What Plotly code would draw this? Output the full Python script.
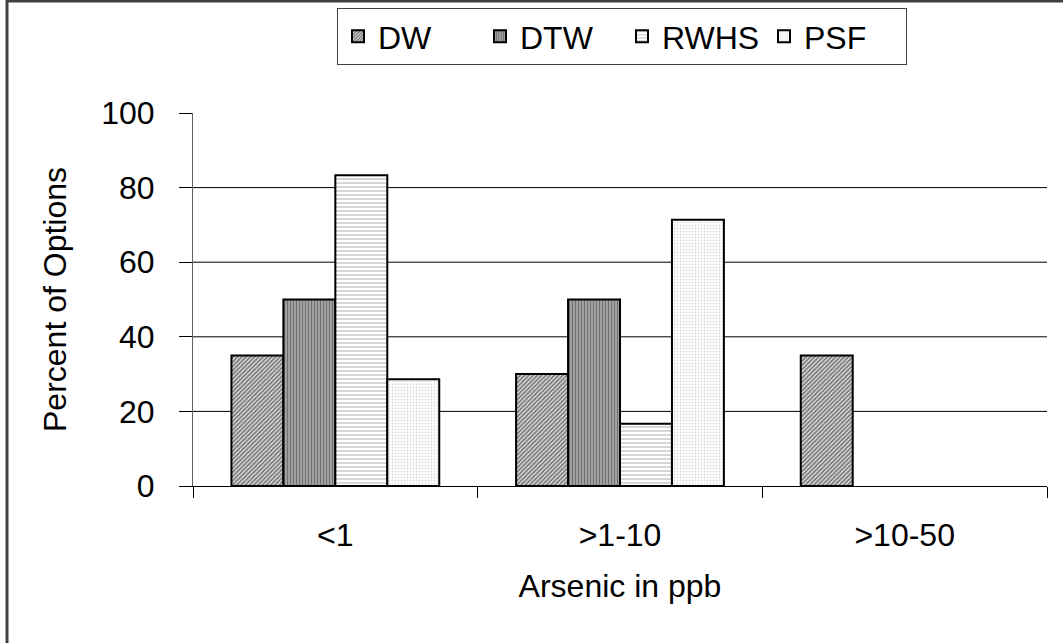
import plotly.graph_objects as go

categories = ["<1", ">1-10", ">10-50"]
series_names = ["DW", "DTW", "RWHS", "PSF"]
dw = [35, 30, 35]
dtw = [50, 50, 0]
rwhs = [83.3, 16.7, 0]
psf = [28.6, 71.4, 0]
y_ticks = [0, 20, 40, 60, 80, 100]
grid_values = [20, 40, 60, 80]

FONT = "Liberation Sans, Arial, sans-serif"

patterns = [
    dict(shape="/", fgcolor="#000000", bgcolor="#ffffff", size=3, solidity=0.7),
    dict(shape="|", fgcolor="#303030", bgcolor="#b0b0b0", size=3, solidity=0.5),
    dict(shape="-", fgcolor="#8a8a8a", bgcolor="#ffffff", size=4, solidity=0.35),
    dict(shape=".", fgcolor="#b8b8b8", bgcolor="#ffffff", size=3, solidity=0.3),
]

fig = go.Figure()
for name, vals, pat in zip(series_names, [dw, dtw, rwhs, psf], patterns):
    fig.add_trace(go.Bar(
        x=categories, y=vals, name=name,
        marker=dict(color="white", pattern=pat,
                    line=dict(color="black", width=[2 if v > 0 else 0 for v in vals])),
    ))

# gridlines (none at 100)
for g in grid_values:
    fig.add_shape(type="line", xref="paper", yref="y", x0=0, x1=1, y0=g, y1=g,
                  line=dict(color="black", width=1), layer="below")

# outer frame
fig.add_shape(type="rect", xref="paper", yref="paper",
              x0=-0.2178, x1=1.2, y0=-0.6, y1=1.3,
              line=dict(color="#404040", width=3), fillcolor="rgba(0,0,0,0)")

fig.update_layout(
    width=1063, height=643,
    margin=dict(l=193, r=16, t=113, b=157),
    paper_bgcolor="white", plot_bgcolor="white",
    barmode="group", bargap=0.27, bargroupgap=0,
    font=dict(family=FONT, size=32, color="black"),
    showlegend=True,
    legend=dict(
        orientation="h", xref="container", yref="container",
        x=337 / 1063, xanchor="left", y=1 - 8 / 643, yanchor="top",
        bordercolor="#404040", borderwidth=1, bgcolor="white",
        font=dict(family=FONT, size=32, color="black"),
        itemwidth=30, traceorder="normal", entrywidth=97,
    ),
    xaxis=dict(
        type="category", tickson="boundaries", ticks="outside", ticklen=11,
        tickcolor="black", tickwidth=1, showline=True, linecolor="black", linewidth=1,
        showgrid=False, ticklabelstandoff=21, automargin=False,
        title=dict(text="Arsenic in ppb", standoff=22, font=dict(size=32)),
        tickfont=dict(size=32),
    ),
    yaxis=dict(
        range=[0, 100], tickvals=y_ticks, ticks="outside", ticklen=13,
        tickcolor="black", tickwidth=1, showline=True, linecolor="#606060", linewidth=1,
        showgrid=False, zeroline=False, ticklabelstandoff=18, automargin=False,
        title=dict(text="Percent of Options", standoff=25, font=dict(size=32)),
        tickfont=dict(size=32),
    ),
)

fig.write_html("out.html", config={"displayModeBar": False},
               post_script="document.body.style.margin='0';")
